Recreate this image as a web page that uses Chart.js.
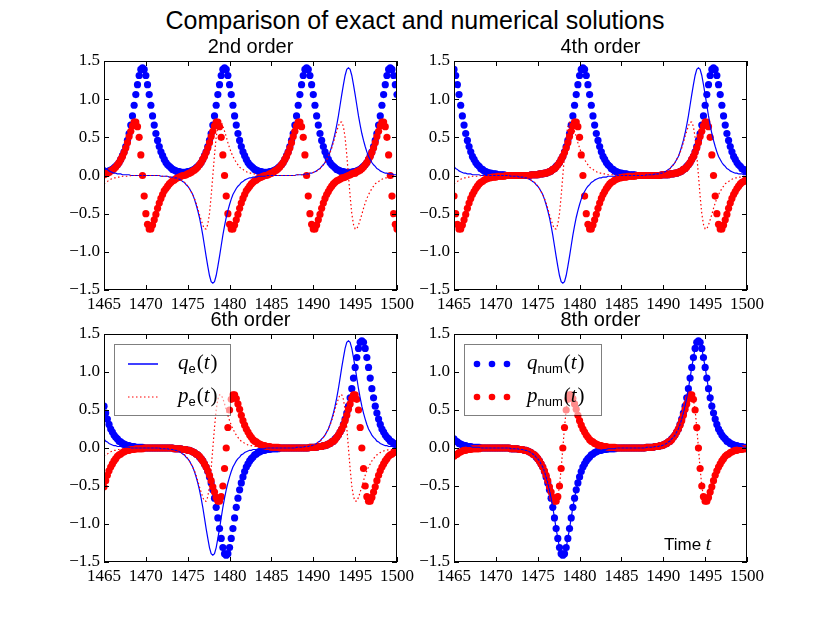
<!DOCTYPE html>
<html>
<head>
<meta charset="utf-8">
<title>Comparison of exact and numerical solutions</title>
<script src="https://cdn.jsdelivr.net/npm/chart.js@4.4.1/dist/chart.umd.min.js"></script>
<style>
  html, body { margin: 0; padding: 0; background: #fff; }
  #fig { position: relative; width: 830px; height: 623px; overflow: hidden; background: #fff; }
  #fig canvas { position: absolute; left: 0; top: 0; }
  #suptitle {
    position: absolute; left: 0; top: 5px; width: 830px; text-align: center;
    font: 25px 'Liberation Sans', Arial, sans-serif; line-height: 30px; color: #000;
  }
</style>
</head>
<body>
<div id="fig">
  <div id="suptitle">Comparison of exact and numerical solutions</div>
  <canvas id="c1" width="830" height="623"></canvas>
  <canvas id="c2" width="830" height="623"></canvas>
  <canvas id="c3" width="830" height="623"></canvas>
  <canvas id="c4" width="830" height="623"></canvas>
</div>
<script>
// sample times (step 0.2)
const times = [
  1465,1465.2,1465.4,1465.6,1465.8,1466,1466.2,1466.4,1466.6,1466.8,
  1467,1467.2,1467.4,1467.6,1467.8,1468,1468.2,1468.4,1468.6,1468.8,
  1469,1469.2,1469.4,1469.6,1469.8,1470,1470.2,1470.4,1470.6,1470.8,
  1471,1471.2,1471.4,1471.6,1471.8,1472,1472.2,1472.4,1472.6,1472.8,
  1473,1473.2,1473.4,1473.6,1473.8,1474,1474.2,1474.4,1474.6,1474.8,
  1475,1475.2,1475.4,1475.6,1475.8,1476,1476.2,1476.4,1476.6,1476.8,
  1477,1477.2,1477.4,1477.6,1477.8,1478,1478.2,1478.4,1478.6,1478.8,
  1479,1479.2,1479.4,1479.6,1479.8,1480,1480.2,1480.4,1480.6,1480.8,
  1481,1481.2,1481.4,1481.6,1481.8,1482,1482.2,1482.4,1482.6,1482.8,
  1483,1483.2,1483.4,1483.6,1483.8,1484,1484.2,1484.4,1484.6,1484.8,
  1485,1485.2,1485.4,1485.6,1485.8,1486,1486.2,1486.4,1486.6,1486.8,
  1487,1487.2,1487.4,1487.6,1487.8,1488,1488.2,1488.4,1488.6,1488.8,
  1489,1489.2,1489.4,1489.6,1489.8,1490,1490.2,1490.4,1490.6,1490.8,
  1491,1491.2,1491.4,1491.6,1491.8,1492,1492.2,1492.4,1492.6,1492.8,
  1493,1493.2,1493.4,1493.6,1493.8,1494,1494.2,1494.4,1494.6,1494.8,
  1495,1495.2,1495.4,1495.6,1495.8,1496,1496.2,1496.4,1496.6,1496.8,
  1497,1497.2,1497.4,1497.6,1497.8,1498,1498.2,1498.4,1498.6,1498.8,
  1499,1499.2,1499.4,1499.6,1499.8,1500
];

// exact solution q_e(t), p_e(t)
const qExact = [
  .12,.09,.08,.06,.05,.04,.03,.03,.02,.02,.02,.01,.01,.01,.01,.01,0,0,0,0,
  0,0,0,0,0,0,0,0,0,0,0,0,0,0,-.01,-.01,-.01,-.01,-.01,-.02,
  -.02,-.02,-.03,-.03,-.04,-.05,-.06,-.08,-.09,-.12,-.14,-.17,-.21,-.25,-.31,-.38,-.46,-.55,-.66,-.78,
  -.92,-1.06,-1.19,-1.31,-1.39,-1.41,-1.39,-1.31,-1.19,-1.06,-.92,-.78,-.66,-.55,-.46,-.38,-.31,-.25,-.21,-.17,
  -.14,-.12,-.09,-.08,-.06,-.05,-.04,-.03,-.03,-.02,-.02,-.02,-.01,-.01,-.01,-.01,-.01,0,0,0,
  0,0,0,0,0,0,0,0,0,0,0,0,0,0,0,.01,.01,.01,.01,.01,
  .02,.02,.02,.03,.03,.04,.05,.06,.08,.09,.12,.14,.17,.21,.25,.31,.38,.46,.55,.66,
  .78,.92,1.06,1.19,1.31,1.39,1.41,1.39,1.31,1.19,1.06,.92,.78,.66,.55,.46,.38,.31,.25,.21,
  .17,.14,.12,.09,.08,.06,.05,.04,.03,.03,.02,.02,.02,.01,.01,.01
];
const pExact = [
  -.11,-.09,-.08,-.06,-.05,-.04,-.03,-.03,-.02,-.02,-.02,-.01,-.01,-.01,-.01,-.01,0,0,0,0,
  0,0,0,0,0,0,0,0,0,0,0,0,0,0,-.01,-.01,-.01,-.01,-.01,-.02,
  -.02,-.02,-.03,-.03,-.04,-.05,-.06,-.08,-.09,-.11,-.14,-.17,-.21,-.25,-.30,-.36,-.43,-.51,-.58,-.65,
  -.70,-.70,-.64,-.50,-.27,0,.27,.50,.64,.70,.70,.65,.58,.51,.43,.36,.30,.25,.21,.17,
  .14,.11,.09,.08,.06,.05,.04,.03,.03,.02,.02,.02,.01,.01,.01,.01,.01,0,0,0,
  0,0,0,0,0,0,0,0,0,0,0,0,0,0,0,.01,.01,.01,.01,.01,
  .02,.02,.02,.03,.03,.04,.05,.06,.08,.09,.11,.14,.17,.21,.25,.30,.36,.43,.51,.58,
  .65,.70,.70,.64,.50,.27,0,-.27,-.50,-.64,-.70,-.70,-.65,-.58,-.51,-.43,-.36,-.30,-.25,-.21,
  -.17,-.14,-.11,-.09,-.08,-.06,-.05,-.04,-.03,-.03,-.02,-.02,-.02,-.01,-.01,-.01
];

// numerical q(t), p(t) — 2nd order
const q2nd = [
  .04,.05,.05,.06,.07,.08,.10,.12,.14,.17,.21,.26,.31,.38,.46,.55,.66,.78,.92,1.06,
  1.19,1.31,1.39,1.41,1.39,1.31,1.19,1.06,.92,.78,.66,.55,.46,.38,.31,.26,.21,.17,.14,.12,
  .10,.08,.07,.06,.05,.05,.04,.04,.04,.04,.05,.05,.06,.07,.08,.10,.12,.14,.17,.21,
  .26,.31,.38,.46,.55,.66,.78,.92,1.06,1.19,1.31,1.39,1.41,1.39,1.31,1.19,1.06,.92,.78,.66,
  .55,.46,.38,.31,.26,.21,.17,.14,.12,.10,.08,.07,.06,.05,.05,.04,.04,.04,.04,.05,
  .05,.06,.07,.08,.10,.12,.14,.17,.21,.26,.31,.38,.46,.55,.66,.78,.92,1.06,1.19,1.31,
  1.39,1.41,1.39,1.31,1.19,1.06,.92,.78,.66,.55,.46,.38,.31,.26,.21,.17,.14,.12,.10,.08,
  .07,.06,.05,.05,.04,.04,.04,.04,.04,.05,.05,.06,.07,.08,.10,.12,.14,.17,.21,.26,
  .31,.38,.46,.55,.66,.78,.92,1.06,1.19,1.31,1.39,1.41,1.39,1.31,1.19,1.06
];
const p2nd = [
  .01,.02,.03,.04,.06,.07,.09,.11,.14,.17,.21,.25,.30,.36,.43,.51,.58,.65,.70,.70,
  .64,.50,.27,0,-.27,-.50,-.64,-.70,-.70,-.65,-.58,-.51,-.43,-.36,-.30,-.25,-.20,-.17,-.14,-.11,
  -.09,-.07,-.06,-.04,-.03,-.02,-.01,0,0,.01,.02,.03,.04,.06,.07,.09,.11,.14,.17,.21,
  .25,.30,.36,.43,.51,.58,.65,.70,.70,.64,.50,.27,0,-.27,-.50,-.64,-.70,-.70,-.65,-.58,
  -.51,-.43,-.36,-.30,-.25,-.20,-.17,-.14,-.11,-.09,-.07,-.06,-.04,-.03,-.02,-.01,0,0,.01,.02,
  .03,.04,.06,.07,.09,.11,.14,.17,.21,.25,.30,.36,.43,.51,.58,.65,.70,.70,.64,.50,
  .27,0,-.27,-.50,-.64,-.70,-.70,-.65,-.58,-.51,-.43,-.36,-.30,-.25,-.21,-.17,-.14,-.11,-.09,-.07,
  -.06,-.05,-.03,-.03,-.02,-.01,0,.01,.02,.03,.03,.05,.06,.07,.09,.11,.14,.17,.21,.25,
  .30,.36,.43,.51,.58,.65,.70,.70,.64,.50,.27,0,-.27,-.50,-.64,-.70
];

// 4th order
const q4th = [
  1.39,1.31,1.19,1.06,.92,.78,.66,.55,.46,.38,.31,.25,.21,.17,.14,.12,.09,.08,.06,.05,
  .04,.03,.03,.02,.02,.02,.01,.01,.01,.01,.01,0,0,0,0,0,0,0,0,0,
  0,0,0,0,0,0,.01,.01,.01,.01,.01,.02,.02,.02,.03,.03,.04,.05,.06,.08,
  .09,.12,.14,.17,.21,.25,.31,.38,.46,.55,.66,.78,.92,1.06,1.19,1.31,1.39,1.41,1.39,1.31,
  1.19,1.06,.92,.78,.66,.55,.46,.38,.31,.25,.21,.17,.14,.12,.09,.08,.06,.05,.04,.03,
  .03,.02,.02,.02,.01,.01,.01,.01,.01,0,0,0,0,0,0,0,0,0,0,0,
  0,0,0,0,.01,.01,.01,.01,.01,.02,.02,.02,.03,.03,.04,.05,.06,.08,.09,.12,
  .14,.17,.21,.25,.31,.38,.46,.55,.66,.78,.92,1.06,1.19,1.31,1.39,1.41,1.39,1.31,1.19,1.06,
  .92,.78,.66,.55,.46,.38,.31,.25,.21,.17,.14,.12,.09,.08,.06,.05
];
const p4th = [
  -.27,-.50,-.64,-.70,-.70,-.65,-.58,-.51,-.43,-.36,-.30,-.25,-.21,-.17,-.14,-.11,-.09,-.08,-.06,-.05,
  -.04,-.03,-.03,-.02,-.02,-.02,-.01,-.01,-.01,-.01,-.01,0,0,0,0,0,0,0,0,0,
  0,0,0,0,0,0,.01,.01,.01,.01,.01,.02,.02,.02,.03,.03,.04,.05,.06,.08,
  .09,.11,.14,.17,.21,.25,.30,.36,.43,.51,.58,.65,.70,.70,.64,.50,.27,0,-.27,-.50,
  -.64,-.70,-.70,-.65,-.58,-.51,-.43,-.36,-.30,-.25,-.21,-.17,-.14,-.11,-.09,-.08,-.06,-.05,-.04,-.03,
  -.03,-.02,-.02,-.02,-.01,-.01,-.01,-.01,-.01,0,0,0,0,0,0,0,0,0,0,0,
  0,0,0,0,.01,.01,.01,.01,.01,.02,.02,.02,.03,.03,.04,.05,.06,.08,.09,.11,
  .14,.17,.21,.25,.30,.36,.43,.51,.58,.65,.70,.70,.64,.50,.27,0,-.27,-.50,-.64,-.70,
  -.70,-.65,-.58,-.51,-.43,-.36,-.30,-.25,-.21,-.17,-.14,-.11,-.09,-.08,-.06,-.05
];

// 6th order
const q6th = [
  .55,.46,.38,.31,.25,.21,.17,.14,.12,.09,.08,.06,.05,.04,.03,.03,.02,.02,.02,.01,
  .01,.01,.01,.01,0,0,0,0,0,0,0,0,0,0,0,0,0,0,0,0,
  0,0,-.01,-.01,-.01,-.01,-.01,-.02,-.02,-.02,-.03,-.03,-.04,-.05,-.06,-.08,-.09,-.12,-.14,-.17,
  -.21,-.25,-.31,-.38,-.46,-.55,-.66,-.78,-.92,-1.06,-1.19,-1.31,-1.39,-1.41,-1.39,-1.31,-1.19,-1.06,-.92,-.78,
  -.66,-.55,-.46,-.38,-.31,-.25,-.21,-.17,-.14,-.12,-.09,-.08,-.06,-.05,-.04,-.03,-.03,-.02,-.02,-.02,
  -.01,-.01,-.01,-.01,-.01,0,0,0,0,0,0,0,0,0,0,0,0,0,0,0,
  0,0,0,.01,.01,.01,.01,.01,.02,.02,.02,.03,.03,.04,.05,.06,.08,.09,.12,.14,
  .17,.21,.25,.31,.38,.46,.55,.66,.78,.92,1.06,1.19,1.31,1.39,1.41,1.39,1.31,1.19,1.06,.92,
  .78,.66,.55,.46,.38,.31,.25,.21,.17,.14,.12,.09,.08,.06,.05,.04
];
const p6th = [
  -.51,-.43,-.36,-.30,-.25,-.21,-.17,-.14,-.11,-.09,-.08,-.06,-.05,-.04,-.03,-.03,-.02,-.02,-.02,-.01,
  -.01,-.01,-.01,-.01,0,0,0,0,0,0,0,0,0,0,0,0,0,0,0,0,
  0,0,-.01,-.01,-.01,-.01,-.01,-.02,-.02,-.02,-.03,-.03,-.04,-.05,-.06,-.08,-.09,-.11,-.14,-.17,
  -.21,-.25,-.30,-.36,-.43,-.51,-.58,-.65,-.70,-.70,-.64,-.50,-.27,0,.27,.50,.64,.70,.70,.65,
  .58,.51,.43,.36,.30,.25,.21,.17,.14,.11,.09,.08,.06,.05,.04,.03,.03,.02,.02,.02,
  .01,.01,.01,.01,.01,0,0,0,0,0,0,0,0,0,0,0,0,0,0,0,
  0,0,0,.01,.01,.01,.01,.01,.02,.02,.02,.03,.03,.04,.05,.06,.08,.09,.11,.14,
  .17,.21,.25,.30,.36,.43,.51,.58,.65,.70,.70,.64,.50,.27,0,-.27,-.50,-.64,-.70,-.70,
  -.65,-.58,-.51,-.43,-.36,-.30,-.25,-.21,-.17,-.14,-.11,-.09,-.08,-.06,-.05,-.04
];

// 8th order (sits on the exact curves)
const q8th = [
  .12,.09,.08,.06,.05,.04,.03,.03,.02,.02,.02,.01,.01,.01,.01,.01,0,0,0,0,
  0,0,0,0,0,0,0,0,0,0,0,0,0,0,-.01,-.01,-.01,-.01,-.01,-.02,
  -.02,-.02,-.03,-.03,-.04,-.05,-.06,-.08,-.09,-.12,-.14,-.17,-.21,-.25,-.31,-.38,-.46,-.55,-.66,-.78,
  -.92,-1.06,-1.19,-1.31,-1.39,-1.41,-1.39,-1.31,-1.19,-1.06,-.92,-.78,-.66,-.55,-.46,-.38,-.31,-.25,-.21,-.17,
  -.14,-.12,-.09,-.08,-.06,-.05,-.04,-.03,-.03,-.02,-.02,-.02,-.01,-.01,-.01,-.01,-.01,0,0,0,
  0,0,0,0,0,0,0,0,0,0,0,0,0,0,0,.01,.01,.01,.01,.01,
  .02,.02,.02,.03,.03,.04,.05,.06,.08,.09,.12,.14,.17,.21,.25,.31,.38,.46,.55,.66,
  .78,.92,1.06,1.19,1.31,1.39,1.41,1.39,1.31,1.19,1.06,.92,.78,.66,.55,.46,.38,.31,.25,.21,
  .17,.14,.12,.09,.08,.06,.05,.04,.03,.03,.02,.02,.02,.01,.01,.01
];
const p8th = [
  -.11,-.09,-.08,-.06,-.05,-.04,-.03,-.03,-.02,-.02,-.02,-.01,-.01,-.01,-.01,-.01,0,0,0,0,
  0,0,0,0,0,0,0,0,0,0,0,0,0,0,-.01,-.01,-.01,-.01,-.01,-.02,
  -.02,-.02,-.03,-.03,-.04,-.05,-.06,-.08,-.09,-.11,-.14,-.17,-.21,-.25,-.30,-.36,-.43,-.51,-.58,-.65,
  -.70,-.70,-.64,-.50,-.27,0,.27,.50,.64,.70,.70,.65,.58,.51,.43,.36,.30,.25,.21,.17,
  .14,.11,.09,.08,.06,.05,.04,.03,.03,.02,.02,.02,.01,.01,.01,.01,.01,0,0,0,
  0,0,0,0,0,0,0,0,0,0,0,0,0,0,0,.01,.01,.01,.01,.01,
  .02,.02,.02,.03,.03,.04,.05,.06,.08,.09,.11,.14,.17,.21,.25,.30,.36,.43,.51,.58,
  .65,.70,.70,.64,.50,.27,0,-.27,-.50,-.64,-.70,-.70,-.65,-.58,-.51,-.43,-.36,-.30,-.25,-.21,
  -.17,-.14,-.11,-.09,-.08,-.06,-.05,-.04,-.03,-.03,-.02,-.02,-.02,-.01,-.01,-.01
];

const xTicks = [1465, 1500, 5];
const yTicks = [-1.5, 1.5, 0.5];

const BLUE = '#0000ff';
const RED = '#ff0000';
const SERIF = '"Liberation Serif", "Times New Roman", serif';
const SANS = '"Liberation Sans", Arial, sans-serif';
const DOT_R = 3.6;
const DOTTED = [1.5, 2.5];

// [left, top, right, bottom] of each axes box, in page pixels
const panels = [
  { id: 'c1', title: '2nd order', box: [104, 61, 397, 290], q: q2nd, p: p2nd },
  { id: 'c2', title: '4th order', box: [454, 61, 747, 290], q: q4th, p: p4th },
  { id: 'c3', title: '6th order', box: [104, 334, 397, 562], q: q6th, p: p6th, legend: 'exact' },
  { id: 'c4', title: '8th order', box: [454, 334, 747, 562], q: q8th, p: p8th, legend: 'num', timeLabel: true },
];

const pts = ys => times.map((t, i) => ({ x: t, y: ys[i] }));

// draws "q_sub(t)" style label
function mathLabel(ctx, x, y, letter, sub) {
  ctx.fillStyle = '#000';
  ctx.textBaseline = 'alphabetic';
  ctx.textAlign = 'left';
  ctx.font = 'italic 21px ' + SERIF;
  ctx.fillText(letter, x, y);
  x += ctx.measureText(letter).width;
  ctx.font = '13px ' + SANS;
  ctx.fillText(sub, x, y + 4);
  x += ctx.measureText(sub).width + 1;
  ctx.font = '21px ' + SERIF;
  ctx.fillText('(', x, y);
  x += ctx.measureText('(').width;
  ctx.font = 'italic 21px ' + SERIF;
  ctx.fillText('t', x, y);
  x += ctx.measureText('t').width + 1;
  ctx.font = '21px ' + SERIF;
  ctx.fillText(')', x, y);
}

const framePlugin = {
  id: 'frame',
  afterDatasetsDraw(chart) {
    const { ctx, chartArea: a, scales: { x, y } } = chart;
    ctx.save();
    ctx.strokeStyle = '#000';
    ctx.lineWidth = 1;
    ctx.strokeRect(a.left + 0.5, a.top + 0.5, a.width - 1, a.height - 1);
    ctx.beginPath();
    x.ticks.forEach(t => {
      const px = Math.round(x.getPixelForValue(t.value)) + 0.5;
      ctx.moveTo(px, a.top); ctx.lineTo(px, a.top + 5);
      ctx.moveTo(px, a.bottom); ctx.lineTo(px, a.bottom - 5);
    });
    y.ticks.forEach(t => {
      const py = Math.round(y.getPixelForValue(t.value)) + 0.5;
      ctx.moveTo(a.left, py); ctx.lineTo(a.left + 5, py);
      ctx.moveTo(a.right, py); ctx.lineTo(a.right - 5, py);
    });
    ctx.stroke();
    ctx.restore();
  }
};

function annotations(panel) {
  return {
    id: 'annot',
    afterDraw(chart) {
      const ctx = chart.ctx;
      const a = chart.chartArea;
      ctx.save();
      if (panel.legend) {
        const lx = a.left + 10, ly = a.top + 10;
        const w = panel.legend === 'exact' ? 116 : 137, h = 71;
        ctx.fillStyle = 'rgba(255,255,255,0.55)';
        ctx.fillRect(lx, ly, w, h);
        ctx.strokeStyle = 'rgba(0,0,0,0.5)';
        ctx.lineWidth = 1;
        ctx.strokeRect(lx + 0.5, ly + 0.5, w, h);
        const y1 = ly + 20, y2 = ly + 53;
        if (panel.legend === 'exact') {
          ctx.lineWidth = 1.5;
          ctx.strokeStyle = BLUE;
          ctx.beginPath(); ctx.moveTo(lx + 14, y1); ctx.lineTo(lx + 44, y1); ctx.stroke();
          ctx.lineWidth = 1.2;
          ctx.strokeStyle = RED;
          ctx.setLineDash(DOTTED);
          ctx.beginPath(); ctx.moveTo(lx + 14, y2); ctx.lineTo(lx + 44, y2); ctx.stroke();
          ctx.setLineDash([]);
          mathLabel(ctx, lx + 64, y1 + 5, 'q', 'e');
          mathLabel(ctx, lx + 64, y2 + 5, 'p', 'e');
        } else {
          [[y1, BLUE], [y2, RED]].forEach(([yy, c]) => {
            ctx.fillStyle = c;
            [13, 28, 43].forEach(dx => {
              ctx.beginPath(); ctx.arc(lx + dx, yy, 3.3, 0, Math.PI * 2); ctx.fill();
            });
          });
          mathLabel(ctx, lx + 63, y1 + 5, 'q', 'num');
          mathLabel(ctx, lx + 63, y2 + 5, 'p', 'num');
        }
      }
      if (panel.timeLabel) {
        ctx.fillStyle = '#000';
        ctx.textBaseline = 'alphabetic';
        ctx.textAlign = 'left';
        ctx.font = '17px ' + SANS;
        const tx = a.left + 210, ty = a.bottom - 12;
        ctx.fillText('Time ', tx, ty);
        const w = ctx.measureText('Time ').width;
        ctx.font = 'italic 19px ' + SERIF;
        ctx.fillText('t', tx + w, ty);
      }
      ctx.restore();
    }
  };
}

Chart.defaults.color = '#000';

panels.forEach(panel => {
  const [left, top, right, bottom] = panel.box;
  const yAxisW = 46, xAxisH = 22, titleH = 26;
  new Chart(document.getElementById(panel.id), {
    type: 'scatter',
    data: {
      datasets: [
        { label: 'p_e(t)', data: pts(pExact), showLine: true, borderColor: RED, borderWidth: 1.2,
          borderDash: DOTTED, pointRadius: 0, clip: 0 },
        { label: 'q_e(t)', data: pts(qExact), showLine: true, borderColor: BLUE, borderWidth: 1.2,
          pointRadius: 0, clip: 0 },
        { label: 'p_num(t)', data: pts(panel.p), pointRadius: DOT_R, pointBorderWidth: 0,
          pointBackgroundColor: RED, backgroundColor: RED, borderColor: RED, clip: 0 },
        { label: 'q_num(t)', data: pts(panel.q), pointRadius: DOT_R, pointBorderWidth: 0,
          pointBackgroundColor: BLUE, backgroundColor: BLUE, borderColor: BLUE, clip: 0 },
      ]
    },
    options: {
      responsive: false,
      animation: false,
      devicePixelRatio: 1,
      events: [],
      layout: {
        padding: { left: left - yAxisW, right: 830 - right, top: top - titleH, bottom: 623 - bottom - xAxisH }
      },
      plugins: {
        legend: { display: false },
        tooltip: { enabled: false },
        title: {
          display: true, text: panel.title, fullSize: false, color: '#000',
          font: { family: SANS, size: 20, weight: 'normal', lineHeight: 1.2 },
          padding: { top: 0, bottom: 2 }
        }
      },
      scales: {
        x: {
          type: 'linear', min: xTicks[0], max: xTicks[1],
          grid: { display: false, drawTicks: false }, border: { display: false },
          ticks: { stepSize: xTicks[2], padding: 4, autoSkip: false, maxRotation: 0, color: '#000',
            font: { family: SERIF, size: 17 }, callback: v => String(v) },
          afterFit(s) { s.height = xAxisH; }
        },
        y: {
          type: 'linear', min: yTicks[0], max: yTicks[1],
          grid: { display: false, drawTicks: false }, border: { display: false },
          ticks: { stepSize: yTicks[2], padding: 4, color: '#000',
            font: { family: SERIF, size: 17 },
            callback: v => (v < 0 ? '\u2212' : '') + Math.abs(v).toFixed(1) },
          afterFit(s) { s.width = yAxisW; }
        }
      }
    },
    plugins: [framePlugin, annotations(panel)]
  });
});
</script>
</body>
</html>
